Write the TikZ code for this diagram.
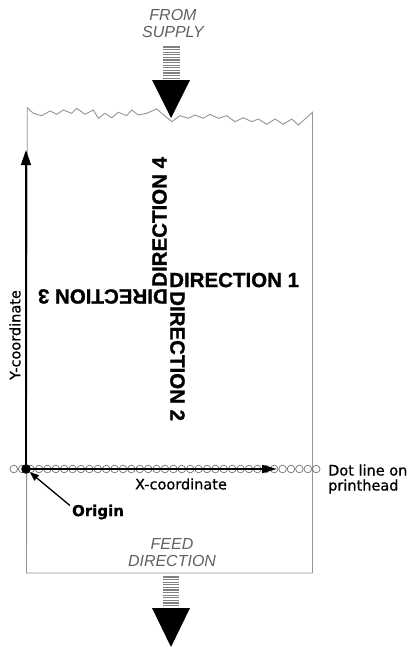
\documentclass[tikz,border=0pt]{standalone}
\usepackage{fontspec}
\setmainfont{Liberation Sans}
\newfontfamily\dejavu[FakeBold=0.8]{DejaVu Sans}
\newfontfamily\dirfont[FakeBold=1.2]{Liberation Sans Bold}
\usetikzlibrary{arrows.meta}
\begin{document}
\begin{tikzpicture}[x=1pt,y=-1pt,
 paper/.style={draw=black!42,line width=0.9pt},
 axisline/.style={draw=black,line width=1.3pt},
 dirtext/.style={inner sep=0pt,font=\dirfont\fontsize{20.5}{20.5}\selectfont},
 ital/.style={font=\fontsize{16}{17}\selectfont\itshape,text=black!62,align=center,inner sep=0pt},
 lbl/.style={font=\dejavu\fontsize{14.5}{15}\selectfont,inner sep=0pt},
 dotc/.style={draw=black!55,fill=white,line width=0.7pt},
 stripe/.style={draw=black!50,line width=1.2pt},
 bighead/.style={fill=black}
]
\useasboundingbox (0,0) rectangle (411,648);
% paper
\draw[paper] (27.3,107.7) -- (33.3,113.3) -- (41.7,115.7) -- (50,111) -- (56.7,114.3) -- (63.3,110) -- (71.7,113.3) -- (76.7,108.3) -- (85,114.3) -- (93.3,110) -- (98.3,118.3) -- (105,113.3) -- (111.7,117.7) -- (118.3,112.3) -- (126.7,115.7) -- (131.7,110) -- (138.3,115) -- (146.7,113.3) -- (156.7,109) -- (171.7,121.7) -- (180,115.7) -- (188.3,118.3) -- (195,115) -- (203.3,118.3) -- (210,114.3) -- (218.3,118.3) -- (226.7,115.7) -- (235,121.7) -- (243.3,117.7) -- (251.7,121.7) -- (258.3,119) -- (266.7,124.3) -- (275,119) -- (283.3,124.3) -- (291.7,119) -- (298.3,125) -- (312.5,112.3) -- (312.5,573) -- (26.5,573) -- cycle;
% supply arrow
\node[ital] (supply) at (173,23) {FROM\\SUPPLY};
\foreach \yy in {47,49.6,...,80} \draw[stripe] (163,\yy) -- (180,\yy);
\fill[bighead] (152,80) -- (190,80) -- (171,118) -- cycle;
% feed arrow
\node[ital] (feed) at (172,553) {FEED\\DIRECTION};
\foreach \yy in {577,579.6,...,608} \draw[stripe] (163,\yy) -- (179,\yy);
\fill[bighead] (152,608) -- (190,608) -- (171,647) -- cycle;
% dot line
\foreach \i in {0,...,36} \draw[dotc] (13.8+8.4*\i,469) circle (3.8);
\coordinate (O) at (26,469);
\coordinate (Ytip) at (26,150);
\coordinate (Xtip) at (277,469);
\draw[axisline,-{Triangle[length=15pt,width=10pt]}] (O) -- (Ytip);
\draw[axisline,-{Triangle[length=15pt,width=8pt]}] (O) -- (Xtip);
\fill[black] (O) circle (4.8);
% labels
\node[lbl,rotate=90] (ylab) at (15,335) {Y-coordinate};
\node[lbl] (xlab) at (181,484) {X-coordinate};
\node[lbl,anchor=west,align=left,font=\dejavu\fontsize{14.5}{15}\selectfont] (dotlab) at (328,479) {Dot line on\\printhead};
\node[lbl,font=\dejavu\bfseries\fontsize{15}{16}\selectfont] (orig) at (98,512) {Origin};
\draw[line width=1.3pt,-{Triangle[length=9pt,width=7pt]},shorten >=5pt] ([xshift=-2pt,yshift=-1pt]orig.north west) -- (O);
% directions
\node[dirtext,anchor=south west] (d1) at (169,287.5) {DIRECTION 1};
\node[dirtext,anchor=south west,rotate=-90] (d2) at (170,291) {DIRECTION 2};
\node[dirtext,anchor=south west,rotate=180] (d3) at (168,289) {DIRECTION 3};
\node[dirtext,anchor=south west,rotate=90] (d4) at (167,287) {DIRECTION 4};
\end{tikzpicture}
\end{document}
